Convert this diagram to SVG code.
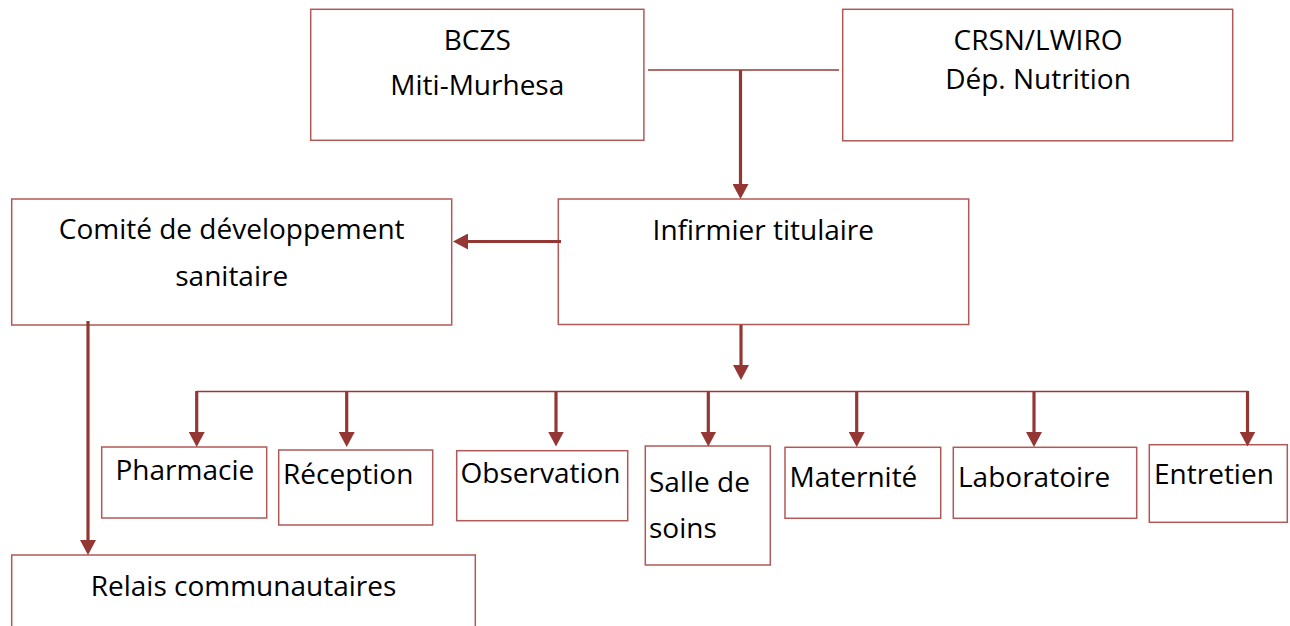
<svg xmlns="http://www.w3.org/2000/svg" width="1290" height="626" viewBox="0 0 1290 626">
<style>
.box{fill:#ffffff;stroke:#b05a57;stroke-width:1.5}
.t{font-family:"Open Sans","Liberation Sans",sans-serif;font-size:28px;fill:#000000}
.c{text-anchor:middle}
.ln{fill:none;stroke:#9a3a38;stroke-width:1.6}
.ar{fill:none;stroke:#943634;stroke-width:3.2;marker-end:url(#ah)}
</style>
<defs>
<marker id="ah" markerUnits="userSpaceOnUse" markerWidth="16" markerHeight="16" refX="7" refY="8" orient="auto">
<path d="M0,0 L15,8 L0,16 Z" fill="#943634"/>
</marker>
</defs>
<rect width="1290" height="626" fill="#ffffff"/>
<g id="bczs"><rect class="box" x="310.7" y="9.3" width="333.2" height="131"/><text class="t c" x="477.3" y="50">BCZS</text><text class="t c" x="477.3" y="95">Miti-Murhesa</text></g>
<g id="crsn"><rect class="box" x="842.7" y="9.3" width="390" height="131.5"/><text class="t c" x="1038" y="49.5">CRSN/LWIRO</text><text class="t c" x="1038" y="88.5">Dép. Nutrition</text></g>
<g id="infirmier"><rect class="box" x="558.3" y="199" width="410.4" height="125.5"/><text class="t c" x="763.3" y="240">Infirmier titulaire</text></g>
<g id="comite"><rect class="box" x="11.7" y="199" width="440" height="126"/><text class="t c" x="231.7" y="239.3">Comité de développement</text><text class="t c" x="231.7" y="286">sanitaire</text></g>
<g id="relais"><rect class="box" x="11.7" y="555" width="463.6" height="90"/><text class="t c" x="243.5" y="596">Relais communautaires</text></g>
<g id="pharmacie"><rect class="box" x="101.7" y="447" width="165" height="71"/><text class="t" x="115.5" y="480">Pharmacie</text></g>
<g id="reception"><rect class="box" x="278.7" y="450" width="154" height="75"/><text class="t" x="283" y="484">Réception</text></g>
<g id="observation"><rect class="box" x="456.7" y="450.7" width="171" height="70"/><text class="t" x="460.5" y="483">Observation</text></g>
<g id="salle"><rect class="box" x="645.3" y="446" width="125" height="119"/><text class="t" x="649" y="492">Salle de</text><text class="t" x="649" y="538">soins</text></g>
<g id="maternite"><rect class="box" x="785" y="447.3" width="155.7" height="71"/><text class="t" x="789.5" y="487.3">Maternité</text></g>
<g id="laboratoire"><rect class="box" x="953.3" y="447.3" width="183.4" height="71"/><text class="t" x="958" y="487.3">Laboratoire</text></g>
<g id="entretien"><rect class="box" x="1149.3" y="444.7" width="138" height="77.6"/><text class="t" x="1154" y="484.3">Entretien</text></g>
<g id="connectors">
<line class="ln" x1="648" y1="70" x2="839" y2="70"/>
<line class="ar" x1="740.5" y1="70" x2="740.5" y2="191"/>
<line class="ar" x1="561" y1="241.5" x2="461" y2="241.5"/>
<line class="ar" x1="741" y1="325" x2="741" y2="372"/>
<line class="ln" x1="196.7" y1="391.5" x2="1248" y2="391.5"/>
<line class="ar" x1="196.7" y1="391" x2="196.7" y2="439"/>
<line class="ar" x1="346.7" y1="391" x2="346.7" y2="439"/>
<line class="ar" x1="556" y1="391" x2="556" y2="438.5"/>
<line class="ar" x1="708.3" y1="391" x2="708.3" y2="438.5"/>
<line class="ar" x1="856.7" y1="391" x2="856.7" y2="439"/>
<line class="ar" x1="1034" y1="391" x2="1034" y2="439"/>
<line class="ar" x1="1247.5" y1="391" x2="1247.5" y2="438.5"/>
<line class="ar" x1="88" y1="321" x2="88" y2="547"/>
</g>
</svg>
